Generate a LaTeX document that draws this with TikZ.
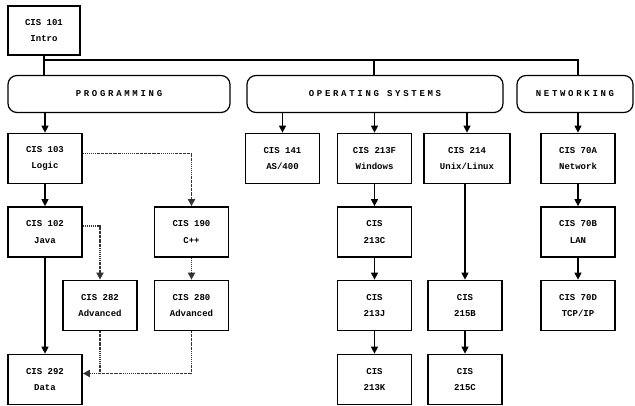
\documentclass[tikz,border=0pt]{standalone}
\usepackage{fontspec}
\setmonofont{Liberation Mono}
\usetikzlibrary{arrows.meta, positioning}

\tikzset{
  course/.style={draw, line width=1.7pt, minimum width=74pt, minimum height=50pt,
    inner sep=0pt, align=center, font=\ttfamily\bfseries\fontsize{9}{16.5}\selectfont},
  track/.style={draw, line width=1.2pt, rounded corners=9pt, minimum height=37pt,
    inner sep=0pt, font=\ttfamily\bfseries\fontsize{9}{11}\selectfont\addfontfeature{LetterSpace=30}},
  link/.style={line width=1.2pt, -{Triangle[length=7pt,width=7pt]}},
  optional/.style={link, line width=1.8pt, gray!40!black, dash pattern=on 1.6pt off 0.8pt on 0.7pt off 0.8pt},
  optjoin/.style={optional, -}
}

\begin{document}
\begin{tikzpicture}[x=1pt, y=-1pt]
    \useasboundingbox (0,0) rectangle (635,406);
    % top course and the three tracks
    \node[course, minimum width=72pt, minimum height=49pt] at (44,30.5) (c101) {CIS 101\\Intro};
    \node[track, minimum width=222pt] at (119,94) (prog) {PROGRAMMING};
    \node[track, minimum width=256pt] at (375,94) (os) {OPERATING SYSTEMS};
    \node[track, minimum width=116pt] at (575,94) (net) {NETWORKING};
    \coordinate (bus) at (44,60);
    \draw[line width=1.1pt] (c101.south) -- (c101.south |- prog.north);
    \draw[line width=1.1pt] (bus) -- (bus -| 578,0) -- (578,0 |- net.north);
    \draw[line width=1.1pt] (bus -| 374,0) -- (374,0 |- os.north);

    % programming
    \node[course] at (45,158.5) (c103) {CIS 103\\Logic};
    \node[course] at (45,232) (c102) {CIS 102\\Java};
    \node[course] at (191.5,232) (c190) {CIS 190\\C++};
    \node[course] at (100,305.5) (c282) {CIS 282\\Advanced};
    \node[course] at (191.5,305.5) (c280) {CIS 280\\Advanced};
    \node[course] at (45,379.5) (c292) {CIS 292\\Data};
    \draw[link] (c103.north |- prog.south) -- (c103.north);
    \draw[link] (c103) -- (c102);
    \draw[link] (c102) -- (c292);
    \draw[optional] ([yshift=5pt]c103.east) -| (c190.north);
    \draw[optional] ([yshift=6pt]c102.east) -| (c282.north);
    \draw[optional] (c190) -- (c280);
    \coordinate (join) at ([yshift=6pt]c292.east);
    \draw[optional] (c282.south) |- (join);
    \draw[optjoin] (c280.south) |- (c282.south |- join);

    % operating systems
    \node[course] at (282.5,158.5) (c141) {CIS 141\\AS/400};
    \node[course] at (374.5,158.5) (c213f) {CIS 213F\\Windows};
    \node[course, minimum width=86pt] at (467,158.5) (c214) {CIS 214\\Unix/Linux};
    \node[course] at (374.5,232) (c213c) {CIS\\213C};
    \node[course] at (374.5,305.5) (c213j) {CIS\\213J};
    \node[course] at (374.5,379.5) (c213k) {CIS\\213K};
    \node[course] at (465,305.5) (c215b) {CIS\\215B};
    \node[course] at (465,379.5) (c215c) {CIS\\215C};
    \foreach \c in {c141, c213f, c214}
        \draw[link] (\c.north |- os.south) -- (\c.north);
    \draw[link] (c213f) -- (c213c);
    \draw[link] (c213c) -- (c213j);
    \draw[link] (c213j) -- (c213k);
    \draw[link] (c215b.north |- c214.south) -- (c215b.north);
    \draw[link] (c215b) -- (c215c);

    % networking
    \node[course] at (578,158.5) (c70a) {CIS 70A\\Network};
    \node[course] at (578,232) (c70b) {CIS 70B\\LAN};
    \node[course] at (578,305.5) (c70d) {CIS 70D\\TCP/IP};
    \draw[link] (c70a.north |- net.south) -- (c70a.north);
    \draw[link] (c70a) -- (c70b);
    \draw[link] (c70b) -- (c70d);
\end{tikzpicture}
\end{document}
